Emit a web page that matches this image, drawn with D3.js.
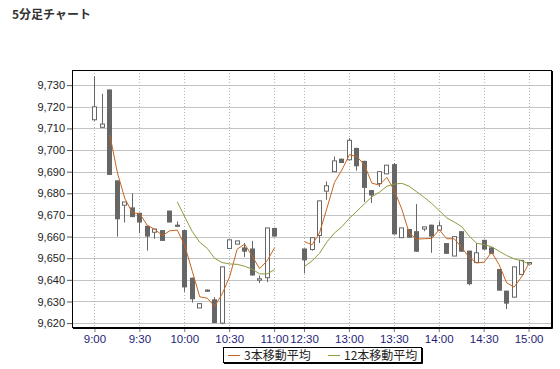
<!DOCTYPE html>
<html>
<head>
<meta charset="utf-8">
<script src="https://cdn.jsdelivr.net/npm/d3@7"></script>
<style>
    body { margin: 0; background: #fff; }
    text { font-family: "Liberation Sans", Arial, sans-serif; }
    .jp { font-family: "Noto Sans CJK JP", sans-serif; }
</style>
</head>
<body>
<svg id="chart" width="560" height="369"></svg>
<script>

// Candle data (5 minute bars), morning and afternoon sessions.

const times = [
    "9:00", "9:05", "9:10", "9:15", "9:20", "9:25", "9:30", "9:35", "9:40", "9:45",
    "9:50", "9:55", "10:00", "10:05", "10:10", "10:15", "10:20", "10:25", "10:30", "10:35",
    "10:40", "10:45", "10:50", "10:55", "11:00",
    "12:30", "12:35", "12:40", "12:45", "12:50", "12:55", "13:00", "13:05", "13:10", "13:15",
    "13:20", "13:25", "13:30", "13:35", "13:40", "13:45", "13:50", "13:55", "14:00", "14:05",
    "14:10", "14:15", "14:20", "14:25", "14:30", "14:35", "14:40", "14:45", "14:50", "14:55",
    "15:00",
];

const opens = [
    9714, 9710.5, 9728, 9686, 9674.5, 9673.5, 9671, 9665, 9662, 9663,
    9672, 9665.5, 9663, 9641, 9627, 9635.5, 9631, 9620, 9654.5, 9656.5,
    9655, 9654.5, 9640.5, 9641, 9664,
    9654.5, 9654, 9660.5, 9681, 9690, 9696, 9695.5, 9701, 9695, 9681.5,
    9684.5, 9689, 9693.5, 9659.5, 9663.5, 9662.5, 9663.5, 9665.5, 9663, 9657,
    9651, 9662.5, 9653.5, 9648, 9658.5, 9655, 9645, 9635, 9632, 9642.5,
    9647.5,
];

const highs = [
    9734, 9726, 9728, 9686, 9676, 9680, 9671, 9665, 9663.5, 9663,
    9672, 9667, 9663, 9641, 9629, 9635.5, 9632, 9646, 9658.5, 9658,
    9657, 9658, 9642, 9664, 9664,
    9654.5, 9659.5, 9676.5, 9685.5, 9697, 9696, 9705.5, 9701, 9695, 9681.5,
    9690, 9693, 9694, 9664, 9663.5, 9675, 9664.5, 9665.5, 9667, 9657,
    9660, 9662.5, 9653.5, 9657, 9658.5, 9655, 9645, 9635, 9646, 9649,
    9648,
];

const lows = [
    9713.5, 9710.5, 9688.5, 9660, 9666.5, 9669, 9661.5, 9653.5, 9659, 9658,
    9666.5, 9664.5, 9634.5, 9629.5, 9627, 9634.5, 9620, 9619.5, 9654.5, 9656.5,
    9650.5, 9642, 9638.5, 9639, 9660,
    9643, 9653.5, 9657, 9677, 9690, 9694, 9695.5, 9690.5, 9676, 9675.5,
    9683, 9689, 9661, 9659.5, 9659.5, 9653, 9662.5, 9652.5, 9663, 9652,
    9651, 9653, 9637.5, 9648, 9654, 9652, 9635, 9626.5, 9632, 9642.5,
    9647.5,
];

const closes = [
    9720, 9712, 9688.5, 9668, 9676, 9669, 9666.5, 9660, 9663.5, 9658,
    9666.5, 9664.5, 9636.5, 9631, 9629, 9634.5, 9620, 9646, 9658.5, 9658,
    9653, 9642, 9640.5, 9664, 9660,
    9649, 9659.5, 9676.5, 9683.5, 9695, 9694, 9704.5, 9692.5, 9682.5, 9679,
    9690, 9693, 9661, 9664, 9659.5, 9653, 9664.5, 9660, 9665, 9652,
    9660, 9653, 9638, 9652.5, 9654, 9652, 9635, 9629, 9646, 9649,
    9648,
];

// Empty slots for the lunch break on the time axis.
const gapSlots = ["gap1", "gap2", "gap3"];

const xTicks = ["9:00", "9:30", "10:00", "10:30", "11:00", "12:30", "13:00", "13:30", "14:00", "14:30", "15:00"];
const yTicks = [9620, 9630, 9640, 9650, 9660, 9670, 9680, 9690, 9700, 9710, 9720, 9730];

const maSpecs = [
    { "name": "3本移動平均", "period": 3, "color": "#c8641e" },
    { "name": "12本移動平均", "period": 12, "color": "#8c9c3c" },
];

// Plot geometry.

const svg = d3.select("#chart");

const margin = { "T": 70, "B": 327, "L": 72, "R": 551 };

const candles = times.map((t, i) => ({
    "time": t, "open": opens[i], "high": highs[i], "low": lows[i], "close": closes[i],
}));

const slots = times.slice(0, 25).concat(gapSlots, times.slice(25));

const xScale = d3.scalePoint()
    .domain(slots)
    .range([margin.L, margin.R])
    .padding(3);

const yScale = d3.scaleLinear()
    .domain([9618.2, 9737])
    .range([margin.B, margin.T]);

const px = v => Math.round(xScale(v));

svg.append("rect")
    .attr("width", 560)
    .attr("height", 369)
    .attr("fill", "#fff");

// Title.

svg.append("text")
    .attr("class", "jp")
    .attr("x", 12)
    .attr("y", 19)
    .attr("font-size", "12px")
    .attr("font-weight", "bold")
    .attr("fill", "#333")
    .text("5分足チャート");

//----------------------------------------------------------------------------//
//                                    GRID                                    //
//----------------------------------------------------------------------------//

svg.append("g")
    .selectAll("line")
    .data(yTicks)
    .join("line")
        .attr("x1", margin.L)
        .attr("x2", margin.R)
        .attr("y1", d => Math.round(yScale(d)) + 0.5)
        .attr("y2", d => Math.round(yScale(d)) + 0.5)
        .attr("stroke", "#c4c4c4");

svg.append("g")
    .selectAll("line")
    .data(xTicks)
    .join("line")
        .attr("x1", d => px(d) + 0.5)
        .attr("x2", d => px(d) + 0.5)
        .attr("y1", margin.T)
        .attr("y2", margin.B)
        .attr("stroke", "#b4b4b4")
        .attr("stroke-dasharray", "1,2");

//----------------------------------------------------------------------------//
//                                    AXES                                    //
//----------------------------------------------------------------------------//

const yAxis = d3.axisLeft(yScale)
    .tickValues(yTicks)
    .tickSize(5)
    .tickPadding(2)
    .tickFormat(d3.format(","));

const yAx = svg.append("g")
    .attr("transform", `translate(${margin.L}, 0)`)
    .call(yAxis);

yAx.select(".domain").remove();
yAx.selectAll("line").attr("stroke", "#555");
yAx.selectAll("text")
    .attr("font-size", "11px")
    .attr("font-family", "Liberation Sans, Arial, sans-serif")
    .attr("fill", "#222");

const xAxis = d3.axisBottom(xScale)
    .tickValues(xTicks)
    .tickSize(5)
    .tickPadding(3);

const xAx = svg.append("g")
    .attr("transform", `translate(0, ${margin.B})`)
    .call(xAxis);

xAx.select(".domain").remove();
xAx.selectAll("line").attr("stroke", "#777");
xAx.selectAll("text")
    .attr("font-size", "11.5px")
    .attr("font-family", "Liberation Sans, Arial, sans-serif")
    .attr("fill", "#1e1e78");

//----------------------------------------------------------------------------//
//                                   CANDLES                                  //
//----------------------------------------------------------------------------//

const candleG = svg.append("g")
    .selectAll("g")
    .data(candles)
    .join("g");

candleG.append("line")
    .attr("x1", d => px(d.time) + 0.5)
    .attr("x2", d => px(d.time) + 0.5)
    .attr("y1", d => yScale(d.high))
    .attr("y2", d => yScale(d.low))
    .attr("stroke", "#666");

candleG.append("rect")
    .attr("x", d => d.close >= d.open ? px(d.time) - 1.5 : px(d.time) - 2)
    .attr("width", d => d.close >= d.open ? 4 : 5)
    .attr("y", d => yScale(Math.max(d.open, d.close)))
    .attr("height", d => Math.max(1.5, yScale(Math.min(d.open, d.close)) - yScale(Math.max(d.open, d.close))))
    .attr("fill", d => d.close >= d.open ? "#fff" : "#666")
    .attr("stroke", d => d.close >= d.open ? "#666" : "none");

//----------------------------------------------------------------------------//
//                               MOVING AVERAGES                              //
//----------------------------------------------------------------------------//

// Average of the last n closes; the series runs on across the lunch gap.
function movingAverage(n) {
    const avg = closes.map((c, i) => i < n - 1 ? null : d3.mean(closes.slice(i - n + 1, i + 1)));
    const pts = times.map((t, i) => ({ "slot": t, "value": avg[i] }));
    return pts.slice(0, 25).concat(gapSlots.map(g => ({ "slot": g, "value": null })), pts.slice(25));
}

const maLine = d3.line()
    .defined(d => d.value !== null)
    .x(d => xScale(d.slot) + 0.5)
    .y(d => yScale(d.value));

svg.append("g")
    .selectAll("path")
    .data(maSpecs)
    .join("path")
        .attr("d", d => maLine(movingAverage(d.period)))
        .attr("fill", "none")
        .attr("stroke", d => d.color)
        .attr("stroke-width", 1);

// Plot frame with heavier right and bottom edges.

svg.append("rect")
    .attr("x", margin.L + 0.5)
    .attr("y", margin.T + 0.5)
    .attr("width", margin.R - margin.L)
    .attr("height", margin.B - margin.T)
    .attr("fill", "none")
    .attr("stroke", "#000");

svg.append("path")
    .attr("d", `M${margin.R + 1.5},${margin.T + 1}V${margin.B + 1.5}H${margin.L + 1}`)
    .attr("fill", "none")
    .attr("stroke", "#000");

//----------------------------------------------------------------------------//
//                                   LEGEND                                   //
//----------------------------------------------------------------------------//

const legend = svg.append("g")
    .attr("transform", "translate(223, 347)");

legend.append("rect")
    .attr("x", 0.5)
    .attr("y", 0.5)
    .attr("width", 198)
    .attr("height", 15)
    .attr("fill", "#fff")
    .attr("stroke", "#000");

legend.append("path")
    .attr("d", "M199.5,1V16.5H1")
    .attr("fill", "none")
    .attr("stroke", "#000");

const legItem = legend.selectAll(".item")
    .data(maSpecs)
    .join("g")
        .attr("class", "item")
        .attr("transform", (d, i) => `translate(${[5, 105][i]}, 0)`);

legItem.append("line")
    .attr("x1", 0)
    .attr("x2", 12)
    .attr("y1", 8.5)
    .attr("y2", 8.5)
    .attr("stroke", d => d.color);

legItem.append("text")
    .attr("class", "jp")
    .attr("x", 16)
    .attr("y", 12.5)
    .attr("font-size", "12px")
    .attr("fill", "#222")
    .text(d => d.name);

</script>
</body>
</html>
